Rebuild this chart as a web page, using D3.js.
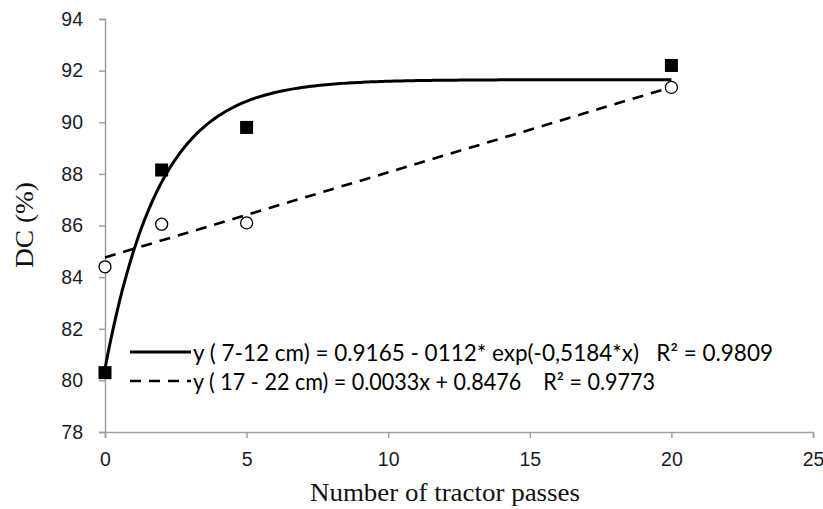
<!DOCTYPE html>
<html><head><meta charset="utf-8">
<script src="https://cdn.jsdelivr.net/npm/d3@7"></script>
<style>body{margin:0;background:#fff} text{white-space:pre}</style>
</head><body>
<svg id="c" width="823" height="509"></svg>
<script>
const passes = [0, 2, 5, 20];
const dcShallow = [80.3, 88.15, 89.8, 92.2];   // 7-12 cm (filled squares)
const dcDeep = [84.4, 86.05, 86.1, 91.35];     // 17-22 cm (open circles)
const xTicks = [0, 5, 10, 15, 20, 25];
const yTicks = [78, 80, 82, 84, 86, 88, 90, 92, 94];
// fitted equations shown in the legend (in %): a - b*exp(-k*x) and m*x + c
const expFit = [91.65, 11.2, 0.5184];
const linFit = [0.33, 84.76];
const legendTexts = [
  "y ( 7-12 cm) = 0.9165 - 0112* exp(-0,5184*x)   R² = 0.9809",
  "y ( 17 - 22 cm) = 0.0033x + 0.8476    R² = 0.9773"
];

const svg = d3.select("#c");
const x = d3.scaleLinear().domain([0, 25]).range([105, 813]);
const y = d3.scaleLinear().domain([78, 94]).range([432, 19]);

const axisColor = "#a0a0a0";
const xa = svg.append("g").attr("transform", `translate(0,${y(78)})`)
  .call(d3.axisBottom(x).tickValues(xTicks).tickSize(6).tickPadding(14).tickFormat(d3.format("d")));
const ya = svg.append("g").attr("transform", `translate(${x(0)},0)`)
  .call(d3.axisLeft(y).tickValues(yTicks).tickSize(6).tickPadding(16).tickFormat(d3.format("d")));
[xa, ya].forEach(a => {
  a.select(".domain").attr("stroke", axisColor).attr("stroke-width", 1.5);
  a.selectAll(".tick line").attr("stroke", axisColor).attr("stroke-width", 1.5);
  a.selectAll(".tick text").attr("fill", "#1a1a2a").attr("font-family", "Liberation Sans, Arial, sans-serif").attr("font-size", 19.5);
});

svg.append("text").attr("x", 310).attr("y", 501)
  .attr("font-family", "Liberation Serif, Times New Roman, serif").attr("font-size", 25).attr("fill", "#111")
  .attr("textLength", 270).attr("lengthAdjust", "spacingAndGlyphs")
  .text("Number of tractor passes");
svg.append("text").attr("transform", "translate(33,268) rotate(-90)")
  .attr("font-family", "Liberation Serif, Times New Roman, serif").attr("font-size", 25).attr("fill", "#111")
  .attr("textLength", 86).attr("lengthAdjust", "spacingAndGlyphs")
  .text("DC (%)");

// trend lines
const xs = d3.range(0, 20.001, 0.1);
const line = d3.line().x(d => x(d[0])).y(d => y(d[1]));
svg.append("path").datum(xs.map(v => [v, expFit[0] - expFit[1] * Math.exp(-expFit[2] * v)]))
  .attr("d", line).attr("fill", "none").attr("stroke", "#000").attr("stroke-width", 3);
svg.append("path").datum([0, 20].map(v => [v, linFit[0] * v + linFit[1]]))
  .attr("d", line).attr("fill", "none").attr("stroke", "#000").attr("stroke-width", 2.6).attr("stroke-dasharray", "11,8");

// markers
svg.selectAll(".sq").data(passes).enter().append("rect")
  .attr("x", (d) => x(d) - 6.5).attr("y", (d, i) => y(dcShallow[i]) - 6.5)
  .attr("width", 13).attr("height", 13).attr("fill", "#000");
svg.selectAll(".ci").data(passes).enter().append("circle")
  .attr("cx", d => x(d)).attr("cy", (d, i) => y(dcDeep[i])).attr("r", 6)
  .attr("fill", "#fff").attr("stroke", "#000").attr("stroke-width", 1.3);

// legend
const lg = svg.append("g");
const rowY = [352, 381];
lg.append("line").attr("x1", 130).attr("x2", 191).attr("y1", rowY[0]).attr("y2", rowY[0])
  .attr("stroke", "#000").attr("stroke-width", 3);
lg.append("line").attr("x1", 130).attr("x2", 191).attr("y1", rowY[1]).attr("y2", rowY[1])
  .attr("stroke", "#000").attr("stroke-width", 2.6).attr("stroke-dasharray", "11,8");
const widths = [580, 462];
legendTexts.forEach((t, i) => {
  lg.append("text").attr("x", 193).attr("y", rowY[i] + 9)
    .attr("font-family", "Lato, Open Sans, sans-serif").attr("font-size", 22.5).attr("fill", "#000")
    .attr("textLength", widths[i]).attr("lengthAdjust", "spacingAndGlyphs")
    .text(t);
});
</script>
</body></html>
